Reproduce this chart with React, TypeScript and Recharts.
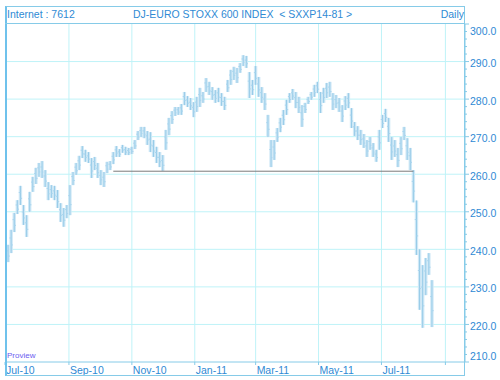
import React from "react";
import { ComposedChart, Bar, XAxis, YAxis, CartesianGrid, ReferenceLine } from "recharts";

// one bar every 3 calendar days, starting 2010-07-01 (day 0)
const barStepDays = 3;

const highs = [
  243.3, 241.2, 245.2, 249.7, 253.1, 256.9, 251.8, 249.1, 255.3, 259.3,
  261.7, 263.0, 263.5, 261.1, 257.9, 257.1, 256.9, 255.8, 252.3, 251.0,
  251.8, 257.1, 260.6, 263.0, 264.9, 267.5, 266.5, 265.9, 264.3, 264.6,
  263.0, 261.1, 260.6, 263.3, 263.5, 265.9, 267.5, 266.7, 267.8, 267.3,
  267.0, 267.3, 269.1, 271.5, 272.6, 272.6, 271.5, 271.2, 269.1, 267.3,
  265.9, 265.1, 271.8, 275.0, 276.8, 277.9, 277.9, 278.7, 281.9, 280.8,
  280.3, 279.2, 280.6, 283.0, 281.9, 285.6, 284.6, 283.2, 282.4, 283.0,
  281.6, 280.6, 285.1, 287.8, 288.6, 288.3, 289.6, 291.7, 291.5, 287.2,
  285.1, 288.8, 285.9, 283.2, 281.6, 275.8, 269.1, 269.1, 272.3, 275.0,
  277.1, 279.8, 281.6, 282.7, 281.9, 280.6, 278.4, 279.0, 280.6, 281.9,
  283.8, 284.6, 281.9, 283.0, 284.3, 284.6, 281.6, 281.1, 280.3, 278.4,
  280.8, 281.6, 277.6, 273.9, 272.8, 271.8, 270.7, 269.1, 269.9, 268.3,
  266.5, 271.8, 275.8, 277.4, 275.0, 269.9, 269.1, 267.0, 269.9, 272.6,
  269.6, 267.0, 261.1, 253.0, 240.0, 235.8, 237.7, 239.0, 231.8,
];

const lows = [
  236.4, 236.6, 239.0, 244.6, 249.4, 251.8, 246.5, 243.3, 250.0, 255.3,
  257.4, 259.3, 259.0, 256.6, 253.1, 253.7, 253.1, 251.0, 247.3, 246.0,
  248.3, 249.1, 257.1, 259.8, 261.1, 264.3, 263.3, 263.0, 259.0, 261.1,
  259.0, 257.1, 256.6, 260.3, 261.1, 262.7, 264.6, 264.6, 265.7, 265.1,
  265.1, 265.4, 266.7, 269.1, 269.9, 269.6, 267.8, 265.9, 264.6, 263.0,
  261.9, 260.9, 266.5, 270.4, 273.4, 275.5, 275.8, 275.8, 278.4, 277.9,
  277.1, 275.2, 276.6, 277.9, 279.0, 281.9, 281.1, 279.8, 279.0, 279.2,
  278.2, 277.1, 281.9, 283.8, 285.1, 284.3, 287.0, 288.8, 288.3, 280.3,
  281.1, 283.8, 280.6, 279.0, 277.1, 269.9, 261.9, 263.8, 268.6, 271.2,
  273.1, 275.8, 279.0, 279.8, 277.6, 276.3, 272.6, 276.3, 278.7, 279.8,
  280.6, 281.6, 276.3, 279.0, 280.3, 280.6, 277.1, 277.6, 276.6, 273.9,
  277.1, 277.6, 272.3, 270.2, 269.1, 267.8, 267.0, 264.6, 266.5, 264.6,
  263.3, 266.5, 272.3, 273.9, 268.6, 263.8, 264.6, 261.9, 265.1, 269.1,
  263.8, 261.1, 252.5, 238.5, 223.9, 219.1, 227.8, 233.2, 219.3,
];

// days since 2010-07-01 of each month label
const monthDays = [0, 62, 123, 184, 243, 304, 365, 427];
const monthLabels = ["Jul-10", "Sep-10", "Nov-10", "Jan-11", "Mar-11", "May-11", "Jul-11", ""];

const priceTicks = [210, 220, 230, 240, 250, 260, 270, 280, 290, 300];

// support line drawn on the chart
const supportLevel = 260.8;
const supportFrom = 105;
const supportTo = 396;

const data = highs.map((h, i) => ({ day: i * barStepDays, range: [lows[i], h] }));

const minorTicks: number[] = [];
for (let v = priceTicks[0]; v <= priceTicks[priceTicks.length - 1]; v += 2) minorTicks.push(v);

const BLUE = "#2f8ad4";
const FRAME = "#86cbe8";
const GRID = "#bff3f8";
const FONT = "'Liberation Sans', Arial, sans-serif";

const YTick = (props: any) => {
  const { x, y, payload } = props;
  const v = payload.value;
  const major = v % 10 === 0;
  let dy = 1.5;
  if (v === 300) dy = 7;
  if (v === 210) dy = -6;
  return (
    <g>
      <line x1={x} x2={x + (major ? 4 : 2)} y1={y} y2={y} stroke={FRAME} />
      {major && (
        <text x={x + 5} y={y + dy} fill={BLUE} fontSize={10.5} fontFamily={FONT} dominantBaseline="central">
          {v.toFixed(1)}
        </text>
      )}
    </g>
  );
};

const XTick = (props: any) => {
  const { x, y, index } = props;
  return (
    <g>
      <line x1={x} x2={x} y1={y} y2={y + 3} stroke={FRAME} />
      <text x={x + 1} y={y + 7.5} fill={BLUE} fontSize={10.5} fontFamily={FONT} dominantBaseline="central">
        {monthLabels[index] ?? ""}
      </text>
    </g>
  );
};

// light band with a darker centre stroke, like a dense run of daily bars
const RangeBar = (props: any) => {
  const { x, y, width, height } = props;
  if (height == null || isNaN(height)) return null;
  const cx = x + width / 2;
  const h = Math.max(height, 1);
  return (
    <g>
      <rect x={cx - 1.7} y={y} width={3.4} height={h} fill="#cfe8f6" />
      <line x1={cx} x2={cx} y1={y} y2={y + h} stroke="#97cbe8" strokeWidth={1} />
      <line x1={cx - 1.7} x2={cx} y1={y + h * 0.35} y2={y + h * 0.35} stroke="#a9d5ee" strokeWidth={1} />
      <line x1={cx} x2={cx + 1.7} y1={y + h * 0.65} y2={y + h * 0.65} stroke="#a9d5ee" strokeWidth={1} />
    </g>
  );
};

export default function App() {
  return (
    <div style={{ position: "absolute", left: 0, top: 0, width: 500, height: 380, background: "#fff", fontFamily: FONT }}>
      <ComposedChart width={500} height={380} data={data} margin={{ top: 24, right: 0, bottom: 0, left: 5 }}>
        <CartesianGrid
          stroke={GRID}
          horizontalValues={[220, 230, 240, 250, 260, 270, 280, 290]}
          verticalValues={monthDays.slice(1)}
        />
        <XAxis
          type="number"
          dataKey="day"
          domain={[0, 446]}
          ticks={monthDays}
          height={18}
          tickSize={0}
          tickMargin={0}
          tickLine={false}
          axisLine={{ stroke: FRAME }}
          tick={<XTick />}
          interval={0}
          allowDataOverflow
        />
        <YAxis
          orientation="right"
          type="number"
          domain={[210, 300]}
          ticks={minorTicks}
          width={35}
          tickSize={0}
          tickMargin={0}
          tickLine={false}
          axisLine={{ stroke: FRAME }}
          tick={<YTick />}
          interval={0}
          allowDataOverflow
        />
        <Bar dataKey="range" barSize={3} fill="#a7d4ee" shape={<RangeBar />} isAnimationActive={false} />
        <ReferenceLine
          segment={[
            { x: supportFrom, y: supportLevel },
            { x: supportTo, y: supportLevel },
          ]}
          stroke="#7a7a7a"
        />
      </ComposedChart>
      <div style={{ position: "absolute", left: 5, top: 6, width: 460, height: 370, boxSizing: "border-box", border: `1px solid ${FRAME}`, borderLeft: `2px solid #6fc2ec`, pointerEvents: "none" }} />
      <div style={{ position: "absolute", left: 5, top: 23, width: 460, height: 1, background: FRAME }} />
      <div style={{ position: "absolute", left: 7, top: 6, lineHeight: "17px", fontSize: 10.5, color: BLUE }}>Internet : 7612</div>
      <div style={{ position: "absolute", left: 133, top: 6, lineHeight: "17px", fontSize: 10.5, color: BLUE, whiteSpace: "pre" }}>
        {"DJ-EURO STOXX 600 INDEX  < SXXP14-81 >"}
      </div>
      <div style={{ position: "absolute", right: 36, top: 6, lineHeight: "17px", fontSize: 10.5, color: BLUE }}>Daily</div>
      <div style={{ position: "absolute", left: 7, top: 351, lineHeight: "10px", fontSize: 8, color: "#6b5cf0" }}>Proview</div>
    </div>
  );
}
